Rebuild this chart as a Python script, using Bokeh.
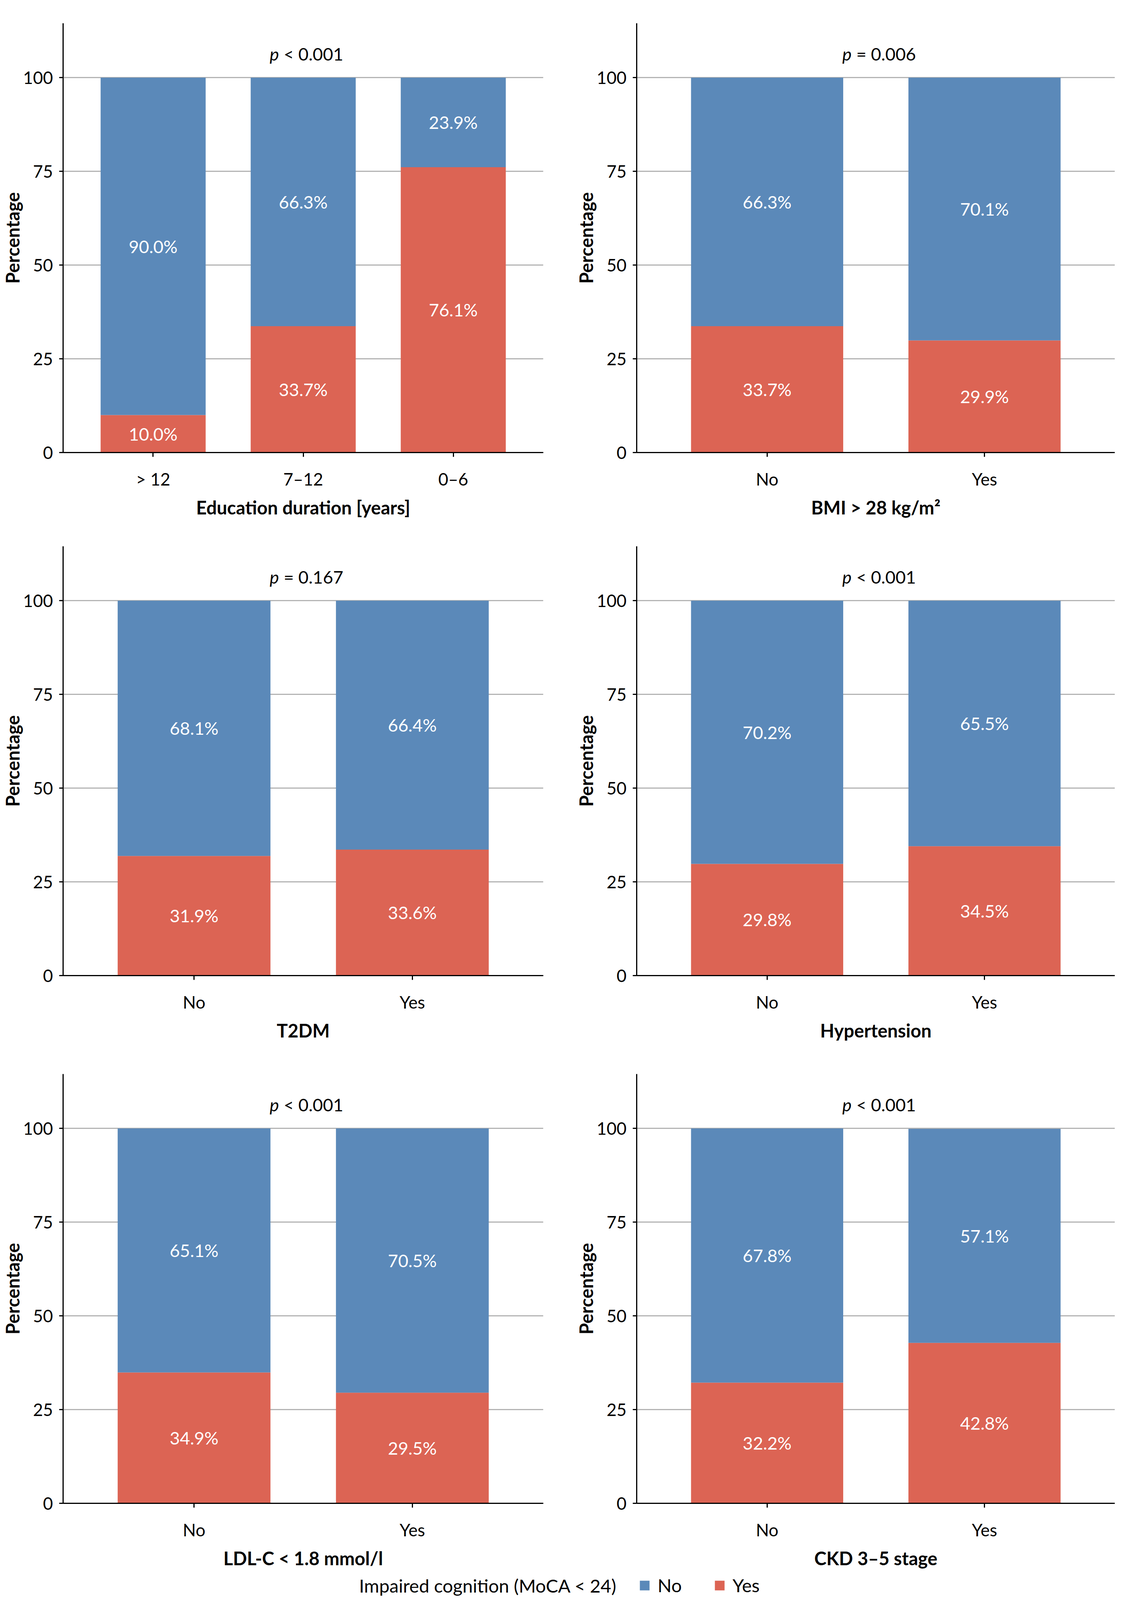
from bokeh.plotting import figure
from bokeh.models import (ColumnDataSource, FixedTicker, Label, Legend, LegendItem,
                          Range1d, FactorRange)
from bokeh.layouts import column, row
from bokeh.embed import file_html
from bokeh.resources import INLINE
from bokeh.core.properties import value

BLUE = "#5b89b9"
RED = "#dc6454"
FONT = "Lato"

# ---------------- data ----------------
edu_cats = ["> 12", "7–12", "0–6"]
edu_yes = [10.0, 33.7, 76.1]
edu_no = [90.0, 66.3, 23.9]

yn_cats = ["No", "Yes"]

bmi_yes = [33.7, 29.9]
bmi_no = [66.3, 70.1]

t2dm_yes = [31.9, 33.6]
t2dm_no = [68.1, 66.4]

htn_yes = [29.8, 34.5]
htn_no = [70.2, 65.5]

ldl_yes = [34.9, 29.5]
ldl_no = [65.1, 70.5]

ckd_yes = [32.2, 42.8]
ckd_no = [67.8, 57.1]

x_titles = ["Education duration [years]", "BMI > 28 kg/m²", "T2DM",
            "Hypertension", "LDL-C < 1.8 mmol/l", "CKD 3–5 stage"]
p_rest = ["< 0.001", "= 0.006", "= 0.167", "< 0.001", "< 0.001", "< 0.001"]

y_ticks = [0, 25, 50, 75, 100]
legend_title = "Impaired cognition (MoCA < 24)"
legend_labels = ["No", "Yes"]

# ---------------- layout constants ----------------
BL = 153
BT = 59
FRAME_H = 1099
LEFT_W = 1468          # 153 + 1237 + 78
RIGHT_W = 1385         # 153 + 1232 + 0   (total 2853)
ROW_H = [1339, 1351, 1338]

REG = "45px"
TICK = "44px"
BOLD = "47px"
LEG = "47px"


def make_panel(cats, yes, no, xtitle, prest, left, height):
    width = LEFT_W if left else RIGHT_W
    br = 78 if left else 0
    p = figure(width=width, height=height, title=None,
               x_range=FactorRange(factors=cats, range_padding=0.1,
                                   range_padding_units="absolute"),
               y_range=Range1d(0, 114.5),
               output_backend="svg", toolbar_location=None,
               min_border_left=BL, min_border_right=br,
               min_border_top=BT, min_border_bottom=height - BT - FRAME_H)
    p.outline_line_color = None
    p.background_fill_color = "white"
    p.border_fill_color = "white"

    src = ColumnDataSource(dict(
        cat=cats, yes=yes, no=no,
        yes_mid=[v / 2 for v in yes],
        no_mid=[y + n / 2 for y, n in zip(yes, no)],
        yes_lbl=[f"{v:.1f}%" for v in yes],
        no_lbl=[f"{v:.1f}%" for v in no],
    ))
    p.vbar_stack(["yes", "no"], x="cat", width=0.7, source=src,
                 fill_color=[RED, BLUE], line_color=None)
    for ycol, tcol in (("yes_mid", "yes_lbl"), ("no_mid", "no_lbl")):
        p.text(x="cat", y=ycol, text=tcol, source=src,
               text_align="center", text_baseline="middle",
               text_color="white", text_font=value(FONT),
               text_font_size=REG)

    # p-value
    cx = len(cats) / 2
    p.add_layout(Label(x=cx, y=106.3, x_offset=-62, text="p", text_align="right",
                       text_baseline="middle", text_font=FONT,
                       text_font_size=REG, text_font_style="italic",
                       text_color="black"))
    p.add_layout(Label(x=cx, y=106.3, x_offset=-50, text=prest, text_align="left",
                       text_baseline="middle", text_font=FONT,
                       text_font_size=REG, text_color="black"))

    # grid
    p.xgrid.grid_line_color = None
    p.ygrid.ticker = FixedTicker(ticks=y_ticks)
    p.ygrid.grid_line_color = "#b4b4b4"
    p.ygrid.grid_line_width = 3

    # axes
    for ax in (p.xaxis[0], p.yaxis[0]):
        ax.axis_line_color = "black"
        ax.axis_line_width = 3
        ax.major_tick_line_color = "black"
        ax.major_tick_line_width = 3
        ax.major_tick_in = 0
        ax.minor_tick_line_color = None
        ax.major_label_text_font = FONT
        ax.major_label_text_font_size = TICK
        ax.major_label_text_color = "black"
        ax.axis_label_text_font = FONT
        ax.axis_label_text_font_size = BOLD
        ax.axis_label_text_font_style = "bold"
        ax.axis_label_text_color = "black"

    p.yaxis.ticker = FixedTicker(ticks=y_ticks)
    p.yaxis.major_tick_out = 10
    p.yaxis.major_label_standoff = 16
    p.yaxis.axis_label = "Percentage"
    p.yaxis.axis_label_standoff = -4

    p.xaxis.major_tick_out = 11
    p.xaxis.major_label_standoff = 30
    p.xaxis.axis_label = xtitle
    p.xaxis.axis_label_standoff = 16
    return p


panels = [
    make_panel(edu_cats, edu_yes, edu_no, x_titles[0], p_rest[0], True, ROW_H[0]),
    make_panel(yn_cats, bmi_yes, bmi_no, x_titles[1], p_rest[1], False, ROW_H[0]),
    make_panel(yn_cats, t2dm_yes, t2dm_no, x_titles[2], p_rest[2], True, ROW_H[1]),
    make_panel(yn_cats, htn_yes, htn_no, x_titles[3], p_rest[3], False, ROW_H[1]),
    make_panel(yn_cats, ldl_yes, ldl_no, x_titles[4], p_rest[4], True, ROW_H[2]),
    make_panel(yn_cats, ckd_yes, ckd_no, x_titles[5], p_rest[5], False, ROW_H[2]),
]

# ---------------- legend strip ----------------
LW, LH = LEFT_W + RIGHT_W, 60
lp = figure(width=LW, height=LH, title=None,
            x_range=Range1d(0, LW), y_range=Range1d(0, LH),
            x_axis_location=None, y_axis_location=None,
            output_backend="svg", toolbar_location=None, min_border=0)
lp.outline_line_color = None
lp.xgrid.visible = False
lp.ygrid.visible = False
# zero-size proxy renderers: they only give the legend its colour swatches
r_no = lp.vbar(x=[0], top=[0], bottom=[0], width=0, fill_color=BLUE, line_color=None)
r_yes = lp.vbar(x=[0], top=[0], bottom=[0], width=0, fill_color=RED, line_color=None)
leg = Legend(items=[LegendItem(label=legend_labels[0], renderers=[r_no], index=0),
                    LegendItem(label=legend_labels[1], renderers=[r_yes], index=0)],
             orientation="horizontal", location=(1634, 2),
             glyph_width=31, glyph_height=31, label_height=31,
             label_standoff=18, spacing=81, padding=0, margin=0,
             border_line_color=None, background_fill_alpha=0,
             label_text_font=FONT, label_text_font_size=LEG,
             label_text_color="black")
lp.add_layout(leg)
lp.add_layout(Label(x=1578, y=30, text=legend_title, text_align="right",
                    text_baseline="middle", text_font=FONT,
                    text_font_size=LEG, text_color="black"))

layout = column(row(panels[0], panels[1]),
                row(panels[2], panels[3]),
                row(panels[4], panels[5]),
                lp)

open("out.html", "w").write(file_html(layout, INLINE))
